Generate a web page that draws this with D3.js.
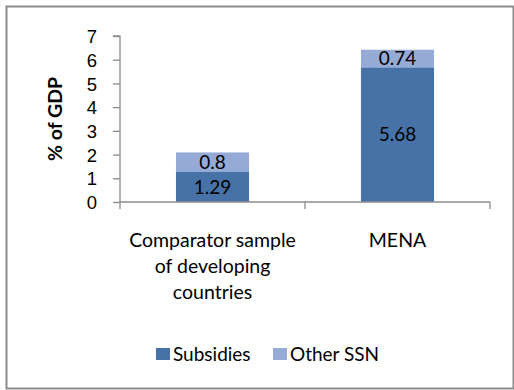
<!DOCTYPE html>
<html>
<head>
<meta charset="utf-8">
<script src="https://cdn.jsdelivr.net/npm/d3@7"></script>
<style>
  html, body { margin: 0; padding: 0; background: #fff; }
  svg { display: block; font-family: Lato, "Open Sans", sans-serif; }
</style>
</head>
<body>
<svg id="chart" width="514" height="390"></svg>
<script>
// Social spending as % of GDP, split into subsidies and other safety nets
const categories = [["Comparator sample", "of developing", "countries"], ["MENA"]];
const categoryKeys = ["Comparator", "MENA"];
const seriesNames = ["Subsidies", "Other SSN"];
const subsidies = [1.29, 5.68];
const otherSSN = [0.8, 0.74];
const yTicks = [0, 1, 2, 3, 4, 5, 6, 7];
const colors = ["#4672A8", "#95AAD4"];

const svg = d3.select("#chart");

// frame around the chart area
svg.append("rect")
  .attr("x", 6.5).attr("y", 6.5)
  .attr("width", 507).attr("height", 382)
  .attr("fill", "#fff")
  .attr("stroke", "#8c8c8c")
  .attr("stroke-width", 2);

const plot = { left: 120, right: 490, top: 36, bottom: 202 };

const x = d3.scaleBand()
  .domain(categoryKeys)
  .range([plot.left, plot.right])
  .paddingInner(0.605)
  .paddingOuter(0.3025);

const y = d3.scaleLinear()
  .domain([0, 7])
  .range([plot.bottom, plot.top]);

// stack the two series
const rows = categoryKeys.map((k, i) => ({ key: k, "Subsidies": subsidies[i], "Other SSN": otherSSN[i] }));
const stacked = d3.stack().keys(seriesNames)(rows);

const layers = svg.append("g").selectAll("g")
  .data(stacked)
  .join("g")
  .attr("fill", (d, i) => colors[i]);

layers.selectAll("rect")
  .data(d => d)
  .join("rect")
  .attr("x", d => x(d.data.key))
  .attr("width", x.bandwidth())
  .attr("y", d => y(d[1]))
  .attr("height", d => y(d[0]) - y(d[1]));

// value labels centred in each segment
layers.selectAll("text")
  .data((d, i) => d.map(v => ({ v, val: v.data[seriesNames[i]] })))
  .join("text")
  .attr("x", d => x(d.v.data.key) + x.bandwidth() / 2)
  .attr("y", d => y((d.v[0] + d.v[1]) / 2))
  .attr("dy", "0.36em")
  .attr("text-anchor", "middle")
  .attr("fill", "#000")
  .attr("font-size", 19)
  .text(d => d.val);

// y axis
const yAxis = svg.append("g")
  .attr("transform", `translate(${plot.left},0)`)
  .call(d3.axisLeft(y).tickValues(yTicks).tickSize(7).tickPadding(16).tickFormat(d3.format("d")));
yAxis.select(".domain").attr("stroke", "#8c8c8c").attr("stroke-width", 1.3)
  .attr("d", `M-7,${plot.top}H0V${plot.bottom}`);
yAxis.selectAll(".tick line").attr("stroke", "#8c8c8c").attr("stroke-width", 1.3);
yAxis.selectAll(".tick text").attr("font-size", 18.5).attr("fill", "#000").attr("dy", "0.36em")
  .attr("x", -23);

// x axis with tick marks between categories
const xAxis = svg.append("g").attr("transform", `translate(0,${plot.bottom})`);
xAxis.append("line")
  .attr("x1", plot.left).attr("x2", plot.right)
  .attr("stroke", "#8c8c8c").attr("stroke-width", 1.3);
const boundaries = [plot.left, (x(categoryKeys[0]) + x.bandwidth() + x(categoryKeys[1])) / 2, plot.right];
xAxis.selectAll("line.tick")
  .data(boundaries)
  .join("line")
  .attr("class", "tick")
  .attr("x1", d => d).attr("x2", d => d)
  .attr("y1", 0).attr("y2", 7)
  .attr("stroke", "#8c8c8c").attr("stroke-width", 1.3);

// category labels
categoryKeys.forEach((k, i) => {
  const t = svg.append("text")
    .attr("text-anchor", "middle")
    .attr("font-size", 19.5)
    .attr("fill", "#000");
  categories[i].forEach((line, j) => {
    t.append("tspan")
      .attr("x", x(k) + x.bandwidth() / 2)
      .attr("y", 247 + j * 26)
      .text(line);
  });
});

// y axis title
svg.append("text")
  .attr("transform", `translate(62,${(plot.top + plot.bottom) / 2}) rotate(-90)`)
  .attr("text-anchor", "middle")
  .attr("font-size", 19.5)
  .attr("font-weight", "bold")
  .attr("fill", "#000")
  .text("% of GDP");

// legend
const legendItems = [
  { name: seriesNames[0], color: colors[0], x: 156 },
  { name: seriesNames[1], color: colors[1], x: 273 }
];
const legend = svg.append("g");
legendItems.forEach(it => {
  legend.append("rect")
    .attr("x", it.x).attr("y", 348)
    .attr("width", 14).attr("height", 12)
    .attr("fill", it.color);
  legend.append("text")
    .attr("x", it.x + 17).attr("y", 361)
    .attr("font-size", 19)
    .attr("fill", "#000")
    .text(it.name);
});
</script>
</body>
</html>
